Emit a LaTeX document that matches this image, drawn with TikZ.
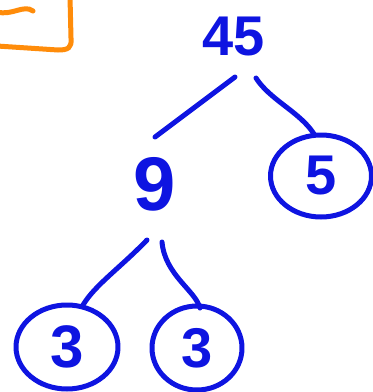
\documentclass[tikz,border=0pt]{standalone}
\usepackage{fontspec}
\setmainfont{Liberation Sans}
\usetikzlibrary{shapes.geometric}
\definecolor{penblue}{RGB}{14,20,225}
\definecolor{penorange}{RGB}{255,140,10}
\begin{document}
\begin{tikzpicture}[x=1pt,y=-1pt,
  pen/.style={draw=penblue,line width=5pt,line cap=round,line join=round},
  digit/.style={text=penblue,inner sep=0pt},
  ring/.style={pen,ellipse,inner sep=0pt}]
\useasboundingbox (0,0) rectangle (373,392);
% orange partial box
\draw[draw=penorange,line width=5pt,line cap=round,line join=round]
  (70,-3) -- (71,38) .. controls (72,48) and (68,50) .. (58,50) -- (-3,46);
\draw[draw=penorange,line width=5pt,line cap=round]
  (-3,12) .. controls (12,16) and (24,4) .. (33,11);
% numbers
\node[digit,font=\bfseries\fontsize{56}{56}\selectfont] (n45) at (234,37) {45};
\node[digit,font=\bfseries\fontsize{76}{76}\selectfont] (n9) at (155,184) {9};
\node[ring,minimum width=101pt,minimum height=82pt,
  font=\bfseries\fontsize{56}{56}\selectfont,text=penblue] (n5) at (321,176) {5};
\node[ring,minimum width=102pt,minimum height=84pt,
  font=\bfseries\fontsize{60}{60}\selectfont,text=penblue] (n3a) at (67,347) {3};
\node[ring,minimum width=90pt,minimum height=84pt,
  font=\bfseries\fontsize{56}{56}\selectfont,text=penblue] (n3b) at (197,348) {3};
% connector ends
\coordinate (a1) at (235,77);  \coordinate (a2) at (155,137);
\coordinate (b1) at (256,78);  \coordinate (b2) at (314,134);
\coordinate (c1) at (147,240); \coordinate (c2) at (83,305);
\coordinate (d1) at (162,242); \coordinate (d2) at (200,308);
\draw[pen] (a1) -- (a2);
\draw[pen] (b1) .. controls (270,100) and (300,112) .. (b2);
\draw[pen] (c1) .. controls (120,268) and (95,285) .. (c2);
\draw[pen] (d1) .. controls (165,275) and (195,290) .. (d2);
\end{tikzpicture}
\end{document}
